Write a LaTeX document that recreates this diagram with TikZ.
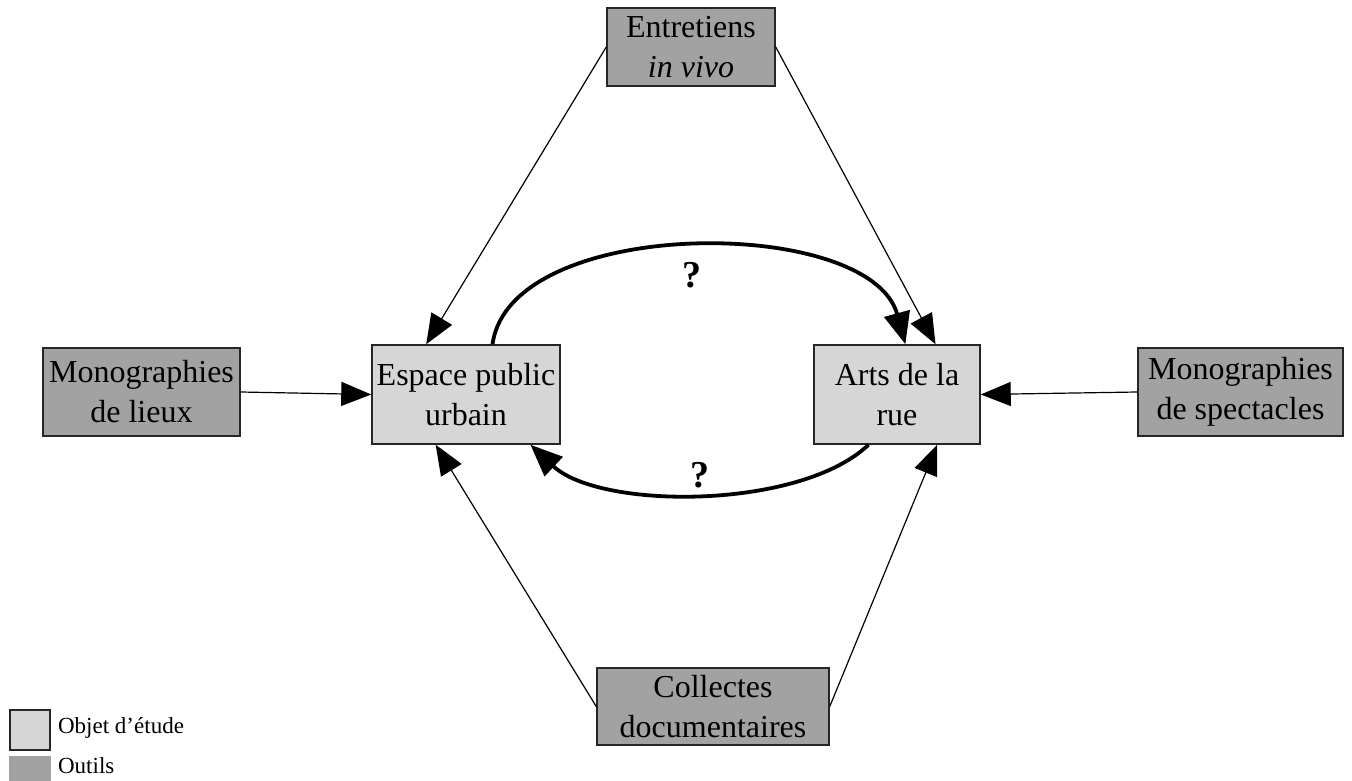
\documentclass[tikz,border=0pt]{standalone}
\usepackage{fontspec}
\setmainfont{Liberation Serif}
\usetikzlibrary{arrows.meta,calc}
\definecolor{fondobjet}{HTML}{D6D6D6}
\definecolor{fondoutil}{HTML}{A2A2A2}
\tikzset{
  boite/.style={draw=black!85, line width=1.5pt, align=center, inner sep=0pt,
    font=\fontsize{32}{40}\selectfont},
  objet/.style={boite, fill=fondobjet},
  outil/.style={boite, fill=fondoutil},
  fleche/.style={-{Triangle[length=30pt,width=24pt]}, line width=1.2pt},
  grossefleche/.style={-{Triangle[length=32pt,width=26pt]}, line width=3.8pt},
  question/.style={font=\fontsize{38}{40}\selectfont\bfseries},
  legende/.style={anchor=west, font=\fontsize{23}{28}\selectfont},
}
\begin{document}
\begin{tikzpicture}[x=1pt,y=-1pt]
  \useasboundingbox (0,0) rectangle (1352,781);
  \node[outil, minimum width=168, minimum height=78] (ent) at (691,47) {Entretiens\\\textit{in vivo}};
  \node[objet, minimum width=188, minimum height=99] (esp) at (466,394.5) {Espace public\\urbain};
  \node[objet, minimum width=166, minimum height=99] (arts) at (897,394.5) {Arts de la\\rue};
  \node[outil, minimum width=197, minimum height=88] (lieux) at (141.5,392) {Monographies\\de lieux};
  \node[outil, minimum width=205, minimum height=88] (spect) at (1240.5,392) {Monographies\\de spectacles};
  \node[outil, minimum width=232, minimum height=77] (coll) at (713,706.5) {Collectes\\documentaires};
  \draw[fleche] (ent.west) -- ($(esp.north west)!0.29!(esp.north east)$);
  \draw[fleche] (ent.east) -- ($(arts.north west)!0.73!(arts.north east)$);
  \draw[fleche] (lieux.east) -- (esp.west);
  \draw[fleche] (spect.west) -- (arts.east);
  \draw[fleche] (coll.west) -- ($(esp.south west)!0.34!(esp.south east)$);
  \draw[fleche] (coll.east) -- ($(arts.south west)!0.74!(arts.south east)$);
  % les deux relations incertaines
  \draw[grossefleche] ($(esp.north west)!0.64!(esp.north east)$) .. controls (510,215) and (870,215) .. ($(arts.north west)!0.55!(arts.north east)$)
    node[pos=0.5, below=10pt, question] (q1) {?};
  \draw[grossefleche] ($(arts.south west)!0.33!(arts.south east)$) .. controls (800,510) and (600,510) .. ($(esp.south west)!0.84!(esp.south east)$)
    node[pos=0.5, above=0pt, question] (q2) {?};
  % legende
  \node[objet, line width=1.2pt, minimum width=40, minimum height=40] (lobj) at (30,730) {};
  \node[legende] (tobj) at ($(lobj.east)+(4,-2)$) {Objet d’étude};
  \node[outil, line width=1.2pt, draw=fondoutil, minimum width=40, minimum height=40] (lout) at (30,777) {};
  \node[legende] (tout) at ($(lout.east)+(4,-11)$) {Outils};
\end{tikzpicture}
\end{document}
